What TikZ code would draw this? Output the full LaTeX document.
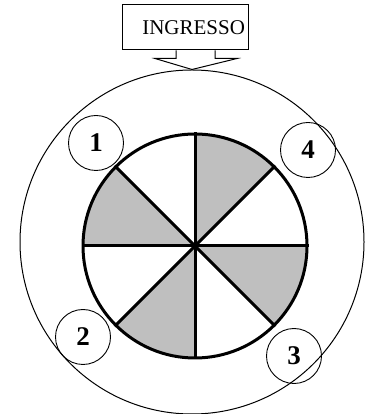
\documentclass[tikz,border=0pt]{standalone}
\usepackage{fontspec}
\setmainfont{Liberation Serif}
\usetikzlibrary{positioning,calc}

\begin{document}
\begin{tikzpicture}[
  x=1pt,y=1pt,
  entrybox/.style={rectangle,draw,line width=1pt,fill=white,inner xsep=3pt,text width=120pt,align=right,minimum height=45pt,font=\fontsize{21}{23}\selectfont},
  ring/.style={circle,draw,line width=1pt,minimum size=344pt,inner sep=0pt},
  wheel/.style={circle,draw,line width=3pt,minimum size=224pt,inner sep=0pt},
  spoke/.style={line width=3pt},
  sector/.style={fill=gray!50!white},
  numnode/.style={circle,draw,line width=0.9pt,fill=none,minimum size=55pt,inner sep=0pt,font=\fontsize{27}{29}\selectfont\bfseries},
  entry/.style={line width=1pt,fill=white,line join=miter},
]
\useasboundingbox (0,0) rectangle (375,414);

% ==== ENTRANCE ====
\node[entrybox] (ingresso) at (185,386.5) {INGRESSO};
\node[ring] (outer) at (192,172) {};

% block arrow from the box down to the ring
\draw[entry] ($(ingresso.south)+(-9,0)$) -- ++(0,-8) -- ++(-21,0) -- (outer.north)
  -- ($(ingresso.south)+(52,-8)$) -- ++(-22,0) -- ++(0,8);

% ==== WHEEL ====
\coordinate (c) at (195,168);
\foreach \a in {45,135,225,315}
  \fill[sector] (c) -- ++(\a:112) arc[start angle=\a, end angle=\a+45, radius=112] -- cycle;
\node[wheel] (wheel) at (c) {};
\draw[spoke] (wheel.0) -- (wheel.180);
\draw[spoke] (wheel.45) -- (wheel.225);
\draw[spoke] (wheel.90) -- (wheel.270);
\draw[spoke] (wheel.135) -- (wheel.315);

% ==== NUMBERED POSTS ====
\node[numnode] (p1) at (96,271) {1};
\node[numnode] (p4) at (308,264) {4};
\node[numnode] (p2) at (83,77) {2};
\node[numnode] (p3) at (294,58) {3};

\end{tikzpicture}
\end{document}
